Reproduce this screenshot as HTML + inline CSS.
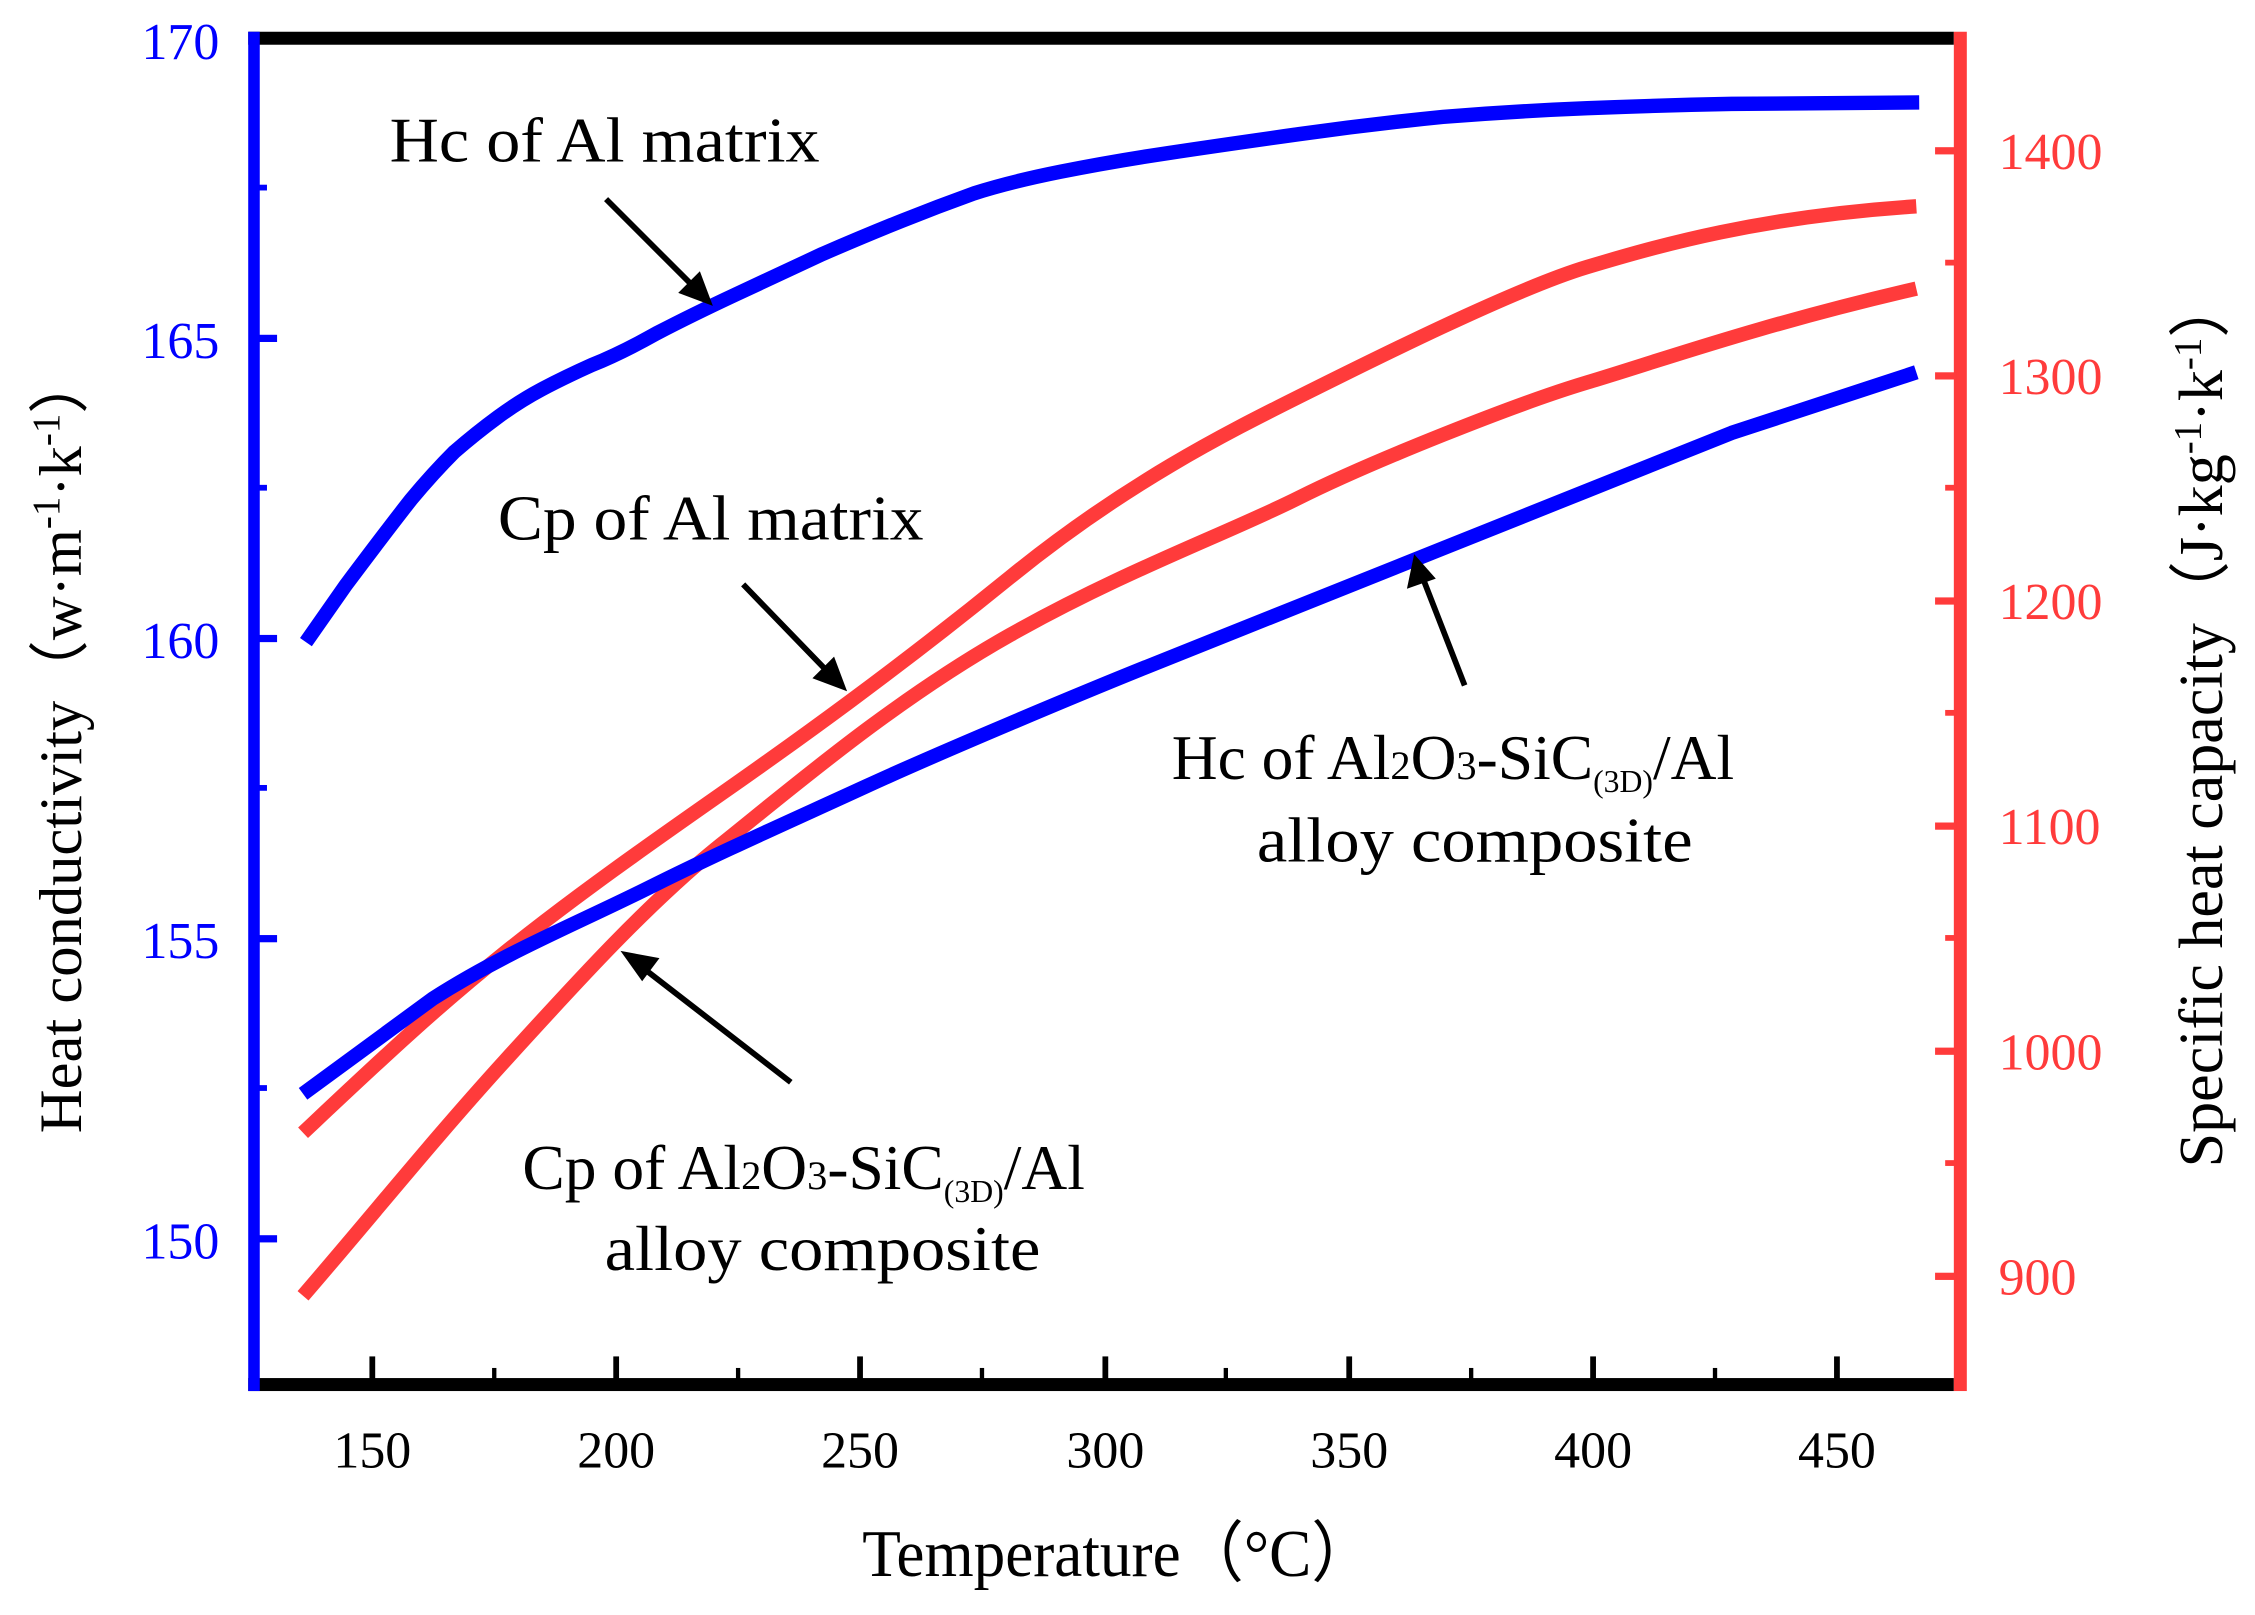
<!DOCTYPE html>
<html><head><meta charset="utf-8"><style>html,body{margin:0;padding:0;background:#fff}svg{display:block}</style></head>
<body>
<svg width="2255" height="1615" viewBox="0 0 1562.7 1119.2" xmlns="http://www.w3.org/2000/svg" font-family="Liberation Serif, serif">
<rect width="1562.7" height="1119.2" fill="#fff"/>
<!-- axes -->
<rect x="172" y="22" width="1182" height="9" fill="#000"/>
<rect x="172" y="955" width="1182" height="9" fill="#000"/>
<rect x="172" y="22" width="8" height="942" fill="#0000ff"/>
<rect x="1354" y="22" width="9" height="942" fill="#ff3b3b"/>
<!-- x ticks -->
<g fill="#000">
<rect x="256" y="940" width="4" height="16"/><rect x="341" y="948" width="3" height="8"/>
<rect x="425" y="940" width="4" height="16"/><rect x="510" y="948" width="3" height="8"/>
<rect x="594" y="940" width="4" height="16"/><rect x="679" y="948" width="3" height="8"/>
<rect x="764" y="940" width="4" height="16"/><rect x="848" y="948" width="3" height="8"/>
<rect x="933" y="940" width="4" height="16"/><rect x="1018" y="948" width="3" height="8"/>
<rect x="1102" y="940" width="4" height="16"/><rect x="1187" y="948" width="3" height="8"/>
<rect x="1271" y="940" width="4" height="16"/>
</g>
<g font-size="36" text-anchor="middle" fill="#000">
<text x="258" y="1017">150</text><text x="427" y="1017">200</text><text x="596" y="1017">250</text>
<text x="766" y="1017">300</text><text x="935" y="1017">350</text><text x="1104" y="1017">400</text><text x="1273" y="1017">450</text>
</g>
<!-- left ticks -->
<g fill="#0000ff">
<rect x="178" y="232" width="14" height="5"/><rect x="178" y="128" width="7" height="4"/>
<rect x="178" y="440" width="14" height="5"/><rect x="178" y="336" width="7" height="4"/>
<rect x="178" y="648" width="14" height="5"/><rect x="178" y="544" width="7" height="4"/>
<rect x="178" y="856" width="14" height="5"/><rect x="178" y="752" width="7" height="4"/>
</g>
<g font-size="36" text-anchor="end" fill="#0000ff">
<text x="152" y="41">170</text><text x="152" y="248">165</text><text x="152" y="456">160</text>
<text x="152" y="664">155</text><text x="152" y="872">150</text>
</g>
<!-- right ticks -->
<g fill="#ff3b3b">
<rect x="1341" y="102" width="15" height="5"/><rect x="1348" y="180" width="8" height="4"/>
<rect x="1341" y="258" width="15" height="5"/><rect x="1348" y="336" width="8" height="4"/>
<rect x="1341" y="414" width="15" height="5"/><rect x="1348" y="492" width="8" height="4"/>
<rect x="1341" y="570" width="15" height="5"/><rect x="1348" y="648" width="8" height="4"/>
<rect x="1341" y="726" width="15" height="5"/><rect x="1348" y="804" width="8" height="4"/>
<rect x="1341" y="882" width="15" height="5"/>
</g>
<g font-size="36" fill="#ff3b3b">
<text x="1385" y="117">1400</text><text x="1385" y="273">1300</text><text x="1385" y="429">1200</text>
<text x="1385" y="585">1100</text><text x="1385" y="741">1000</text><text x="1385" y="897">900</text>
</g>
<!-- titles -->
<text x="775" y="1092" font-size="46" text-anchor="middle" textLength="355" lengthAdjust="spacingAndGlyphs">Temperature（°C）</text>
<text transform="translate(56,515) rotate(-90)" font-size="42" text-anchor="middle">Heat conductivity（w·m<tspan dy="-15" font-size="27">-1</tspan><tspan dy="15">·k</tspan><tspan dy="-15" font-size="27">-1</tspan><tspan dy="15">）</tspan></text>
<text transform="translate(1540,500) rotate(-90)" font-size="43" text-anchor="middle">Specific heat capacity（J·kg<tspan dy="-15" font-size="27">-1</tspan><tspan dy="15">·k</tspan><tspan dy="-15" font-size="27">-1</tspan><tspan dy="15">）</tspan></text>
<!-- curves -->
<g fill="none" stroke-width="10" stroke-linejoin="round" stroke-linecap="butt">
<path stroke="#ff3b3b" d="M210,785 C260,738 300,700 350,660 S450,585 500,550 S620,465 700,400 S850,300 900,275 S1050,200 1100,185 S1220,150 1328,143"/>
<path stroke="#ff3b3b" d="M210,898 C260,840 300,790 350,735 S450,625 500,585 S620,485 700,440 S850,370 900,345 S1050,280 1100,265 S1220,225 1328,200"/>
<path stroke="#0000ff" d="M212,445 L240,405 Q270,365 285,346 Q300,328 315,313 Q330,300 345,289 Q360,278 375,270 Q390,262 410,253 Q430,245 455,231 Q480,218 510,204 Q540,190 570,176 Q600,163 625,153 Q650,143 675,134 Q700,126 735,119 Q770,112 810,106 Q850,100 900,93 Q950,86 1000,81 Q1050,77 1100,75 Q1150,73 1200,72 L1330,71"/>
<path stroke="#0000ff" d="M210,758 L300,692 C350,660 400,640 450,615 S550,568 600,545 S750,480 800,460 S950,400 1000,380 S1150,320 1200,300 L1328,258"/>
</g>
<!-- arrows -->
<g stroke="#000" stroke-width="4" fill="#000">
<line x1="420" y1="138" x2="482" y2="200"/><polygon points="494,212 470,203 485,188" stroke="none"/>
<line x1="515" y1="405" x2="575" y2="467"/><polygon points="587,479 563,470 578,455" stroke="none"/>
<line x1="1015" y1="475" x2="985" y2="398"/><polygon points="980,384 975,408 995,401" stroke="none"/>
<line x1="548" y1="750" x2="442" y2="668"/><polygon points="430,659 445,680 457,664" stroke="none"/>
</g>
<!-- annotations -->
<g font-size="44" fill="#000">
<text x="270" y="112" textLength="298" lengthAdjust="spacingAndGlyphs">Hc of Al matrix</text>
<text x="345" y="374" textLength="295" lengthAdjust="spacingAndGlyphs">Cp of Al matrix</text>
<text x="812" y="540">Hc of Al<tspan font-size="28">2</tspan>O<tspan font-size="28">3</tspan>-SiC<tspan font-size="22" dy="9">(3D)</tspan><tspan dy="-9">/Al</tspan></text>
<text x="1022" y="597" text-anchor="middle" textLength="302" lengthAdjust="spacingAndGlyphs">alloy composite</text>
<text x="362" y="824">Cp of Al<tspan font-size="28">2</tspan>O<tspan font-size="28">3</tspan>-SiC<tspan font-size="22" dy="9">(3D)</tspan><tspan dy="-9">/Al</tspan></text>
<text x="570" y="880" text-anchor="middle" textLength="302" lengthAdjust="spacingAndGlyphs">alloy composite</text>
</g>
</svg>
</body></html>
